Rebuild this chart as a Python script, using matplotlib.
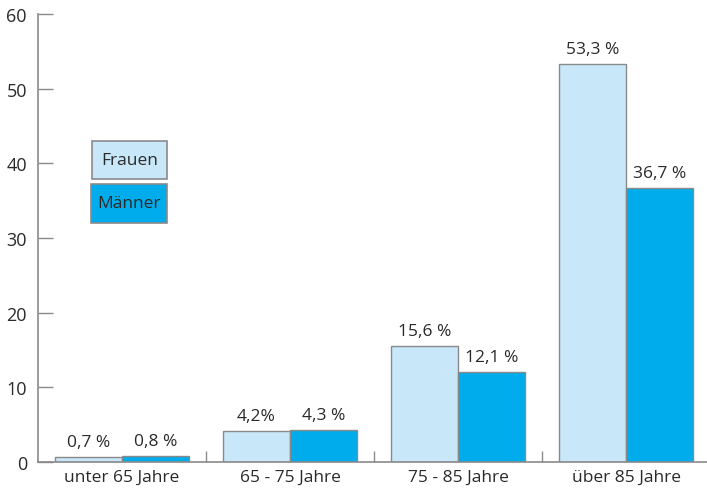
import numpy as np
import matplotlib.pyplot as plt
from matplotlib.patches import Rectangle

plt.rcParams['font.family'] = ['Open Sans', 'DejaVu Sans']

groups = ["unter 65 Jahre", "65 - 75 Jahre", "75 - 85 Jahre", "über 85 Jahre"]
frauen = [0.7, 4.2, 15.6, 53.3]
maenner = [0.8, 4.3, 12.1, 36.7]
frauen_lbl = ["0,7 %", "4,2%", "15,6 %", "53,3 %"]
maenner_lbl = ["0,8 %", "4,3 %", "12,1 %", "36,7 %"]

c_fr = "#c8e7f8"
c_ma = "#00aceb"
grey = "#8a8a8a"
txt = "#2a2a2a"

fig = plt.figure(figsize=(7.07, 4.89), dpi=100)
ax = fig.add_axes([38 / 707, 26 / 489, 1 - 38 / 707, (463 - 15) / 489])

x = np.arange(len(groups))
w = 0.4
ax.bar(x - w / 2, frauen, w, color=c_fr, edgecolor=grey, linewidth=1)
ax.bar(x + w / 2, maenner, w, color=c_ma, edgecolor=grey, linewidth=1)

for i in range(len(groups)):
    ax.text(x[i] - w / 2, frauen[i] + 0.9, frauen_lbl[i], ha="center", va="bottom",
            fontsize=12.5, color=txt)
    ax.text(x[i] + w / 2, maenner[i] + 0.9, maenner_lbl[i], ha="center", va="bottom",
            fontsize=12.5, color=txt)

ax.set_xlim(-0.5, 3.482)
ax.set_ylim(0, 60)
ax.set_yticks([0, 10, 20, 30, 40, 50, 60])
ax.tick_params(axis="y", direction="in", length=11, width=1, color=grey,
               labelsize=13, labelcolor=txt, pad=8)

# separators between groups on the x axis
ax.set_xticks([0.5, 1.5, 2.5])
ax.set_xticklabels([])
ax.tick_params(axis="x", direction="in", length=8, width=1, color=grey)
for i, g in enumerate(groups):
    ax.text(x[i], -0.9, g, ha="center", va="top", fontsize=12.5, color=txt)

for s in ["top", "right"]:
    ax.spines[s].set_visible(False)
for s in ["left", "bottom"]:
    ax.spines[s].set_color(grey)
    ax.spines[s].set_linewidth(1.2)

# legend boxes
W, H = 707, 489
for (x0, y0, x1, y1), col, name in [((92, 142, 167, 180), c_fr, "Frauen"),
                                      ((91, 185, 167, 224), c_ma, "Männer")]:
    fig.patches.append(Rectangle((x0 / W, 1 - y1 / H), (x1 - x0) / W, (y1 - y0) / H,
                                 transform=fig.transFigure, facecolor=col,
                                 edgecolor=grey, linewidth=1.2))
    fig.text((x0 + x1) / 2 / W, 1 - (y0 + y1) / 2 / H, name, ha="center", va="center",
             fontsize=12.5, color=txt)

fig.savefig("out.png", dpi=100)
